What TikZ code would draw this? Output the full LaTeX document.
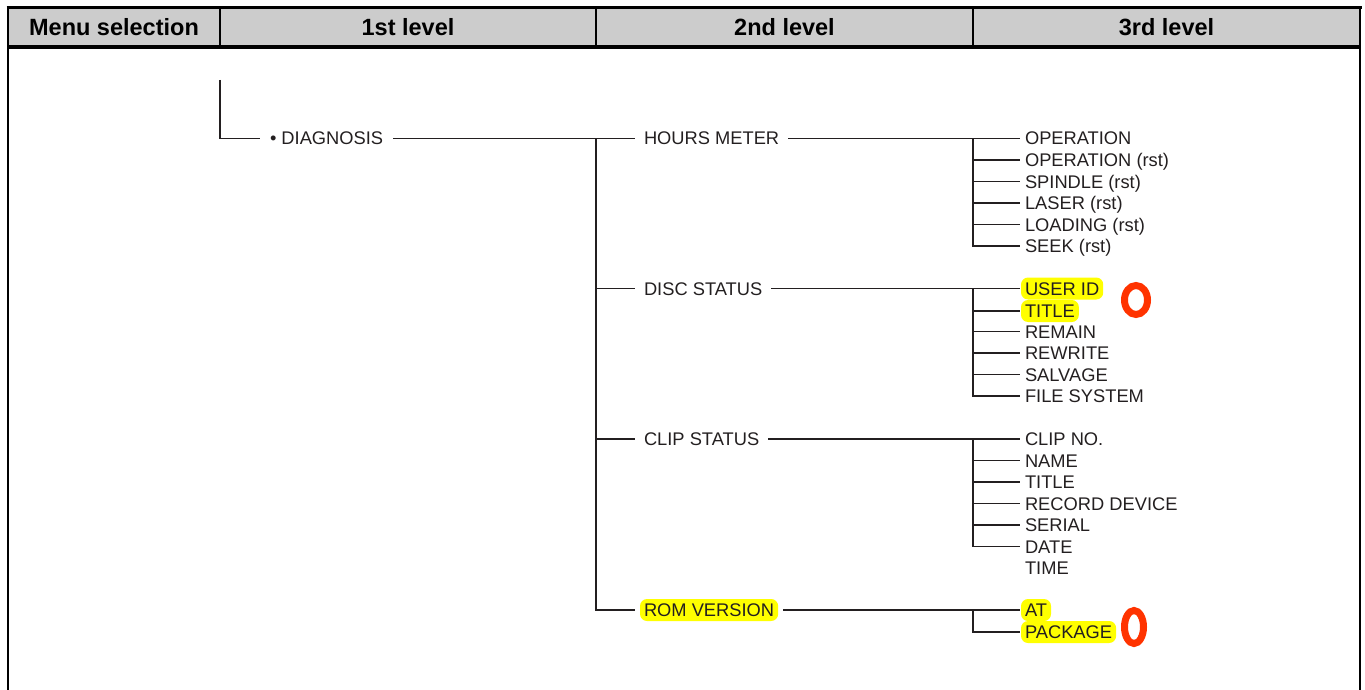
\documentclass[tikz,border=0pt]{standalone}
\usepackage{fontspec}
\setmainfont{Liberation Sans}
\definecolor{hdrgray}{HTML}{CCCCCC}
\definecolor{hlyellow}{HTML}{FFFF00}
\definecolor{okred}{HTML}{FF3300}
\definecolor{ink}{HTML}{231F20}
\begin{document}
\begin{tikzpicture}[x=1pt,y=-1pt,
  txt/.style={font=\fontsize{18.3}{20}\selectfont, text=ink, text height=13pt, text depth=0pt, inner xsep=4pt, inner ysep=4.5pt, anchor=west, outer ysep=0pt},
  lvone/.style={txt, outer xsep=6pt},
  lvtwo/.style={txt, outer xsep=5pt},
  lvthree/.style={txt, outer xsep=1pt},
  hl/.style={fill=hlyellow, rounded corners=7pt},
  wire/.style={line width=1.3pt, ink},
  hdr/.style={font=\fontsize{23.5}{26}\selectfont\bfseries, text=black, inner sep=0pt},
  okmark/.style={draw=okred, line width=7pt}]
\useasboundingbox (0,0) rectangle (1365,690);
% header
\fill[hdrgray] (8,8) rectangle (1360,47);
\draw[line width=3pt] (6.5,8) -- (1361.5,8);
\draw[line width=3.5pt] (8,47) -- (1360,47);
\draw[line width=1.5pt] (220,8) -- (220,47);
\draw[line width=1.5pt] (596,8) -- (596,47);
\draw[line width=1.5pt] (973,8) -- (973,47);
\draw[line width=2pt] (8,8) -- (8,690);
\draw[line width=2.5pt] (1360,8) -- (1360,690);
\node[hdr] (hdra) at (114,27.5) {Menu selection};
\node[hdr] (hdrb) at (408,27.5) {1st level};
\node[hdr] (hdrc) at (784.5,27.5) {2nd level};
\node[hdr] (hdrd) at (1166.5,27.5) {3rd level};
% level 1 and 2
\node[lvone] (diag) at (260,138.5) {• DIAGNOSIS};
\node[lvtwo] (hm) at (635,138.5) {HOURS METER};
\node[lvtwo] (ds) at (635,288.5) {DISC STATUS};
\node[lvtwo] (cs) at (635,439) {CLIP STATUS};
\node[lvtwo,hl] (rv) at (635,610) {ROM VERSION};
% level 3
\node[lvthree] (h1) at (1020,138.5) {OPERATION};
\node[lvthree] (h2) at (1020,160) {OPERATION (rst)};
\node[lvthree] (h3) at (1020,181.5) {SPINDLE (rst)};
\node[lvthree] (h4) at (1020,203) {LASER (rst)};
\node[lvthree] (h5) at (1020,224.5) {LOADING (rst)};
\node[lvthree] (h6) at (1020,246) {SEEK (rst)};
\node[lvthree,hl] (d1) at (1020,288.5) {USER ID};
\node[lvthree,hl] (d2) at (1020,311) {TITLE};
\node[lvthree] (d3) at (1020,331.5) {REMAIN};
\node[lvthree] (d4) at (1020,353) {REWRITE};
\node[lvthree] (d5) at (1020,374.5) {SALVAGE};
\node[lvthree] (d6) at (1020,396) {FILE SYSTEM};
\node[lvthree] (c1) at (1020,439) {CLIP NO.};
\node[lvthree] (c2) at (1020,460.5) {NAME};
\node[lvthree] (c3) at (1020,482) {TITLE};
\node[lvthree] (c4) at (1020,503.5) {RECORD DEVICE};
\node[lvthree] (c5) at (1020,525) {SERIAL};
\node[lvthree] (c6) at (1020,546.5) {DATE};
\node[lvthree] (c7) at (1020,568) {TIME};
\node[lvthree,hl] (r1) at (1020,610) {AT};
\node[lvthree,hl] (r2) at (1020,632) {PACKAGE};
% connectors
\coordinate (top) at (220,80);
\coordinate (tt) at (596,138.5);
\coordinate (T) at (973,0);
\draw[wire] (top) |- (diag.west);
\draw[wire] (diag.east) -- (hm.west);
\draw[wire] (tt) |- (rv.west);
\draw[wire] (ds.west -| tt) -- (ds.west);
\draw[wire] (cs.west -| tt) -- (cs.west);
\draw[wire] (hm.east) -- (h1.west);
\draw[wire] (h1.west -| T) |- (h6.west);
\foreach \n in {h2,h3,h4,h5} \draw[wire] (\n.west -| T) -- (\n.west);
\draw[wire] (ds.east) -- (d1.west);
\draw[wire] (d1.west -| T) |- (d6.west);
\foreach \n in {d2,d3,d4,d5} \draw[wire] (\n.west -| T) -- (\n.west);
\draw[wire] (cs.east) -- (c1.west);
\draw[wire] (c1.west -| T) |- (c6.west);
\foreach \n in {c2,c3,c4,c5} \draw[wire] (\n.west -| T) -- (\n.west);
\draw[wire] (rv.east) -- (r1.west);
\draw[wire] (r1.west -| T) |- (r2.west);
% marks
\draw[okmark] (1136,300) ellipse [x radius=11.5pt, y radius=14.5pt];
\draw[okmark] (1134,627) ellipse [x radius=9.5pt, y radius=16.5pt];
\end{tikzpicture}
\end{document}
